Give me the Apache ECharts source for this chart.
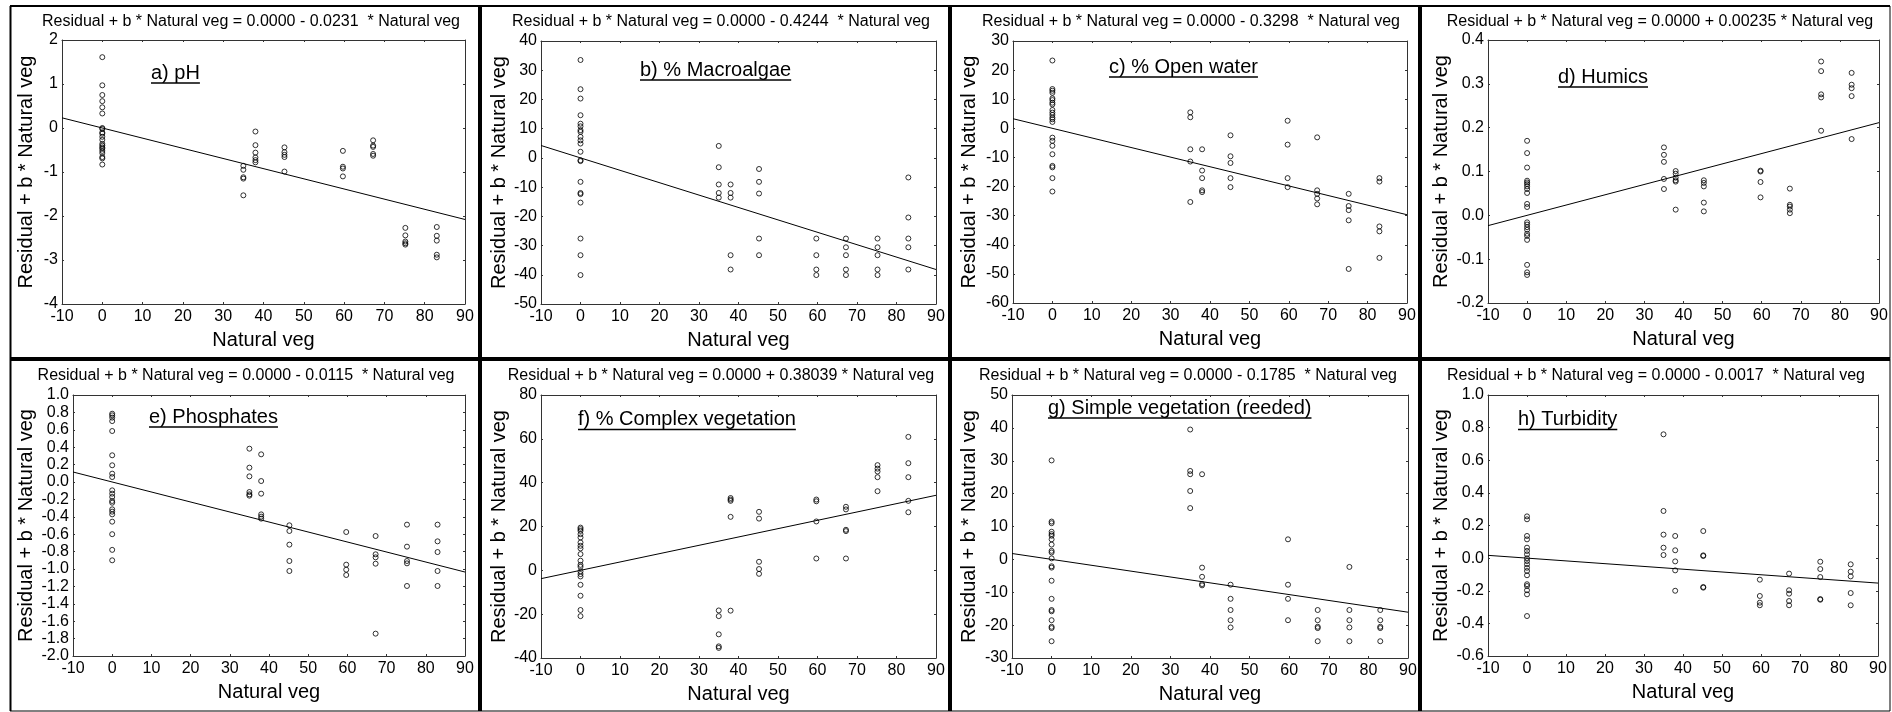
<!DOCTYPE html>
<html>
<head>
<meta charset="utf-8">
<script src="https://cdn.jsdelivr.net/npm/echarts@6/dist/echarts.min.js"></script>
<style>
  html, body { margin: 0; padding: 0; background: #fff; }
  #chart { width: 1892px; height: 712px; }
</style>
</head>
<body>
<div id="chart"></div>
<script>
// Natural vegetation cover (%) of the sampled sites
const SITES = [0, 35, 38, 45.2, 59.7, 67.2, 75.2, 83];

// Partial residuals per site (one inner list per entry of SITES)
const pH = [
  [1.61, 0.97, 0.75, 0.61, 0.47, 0.33, 0.0, -0.02, -0.1, -0.13, -0.2, -0.27, -0.36, -0.4, -0.44, -0.47, -0.52, -0.57, -0.66, -0.69, -0.83],
  [-0.86, -0.95, -1.12, -1.15, -1.53],
  [-0.08, -0.39, -0.56, -0.67, -0.73, -0.78],
  [-0.44, -0.55, -0.61, -0.66, -0.99],
  [-0.52, -0.88, -0.92, -1.1],
  [-0.28, -0.4, -0.43, -0.59, -0.63],
  [-2.27, -2.44, -2.58, -2.62, -2.65],
  [-2.25, -2.45, -2.56, -2.88, -2.94]
];
const macroalgae = [
  [33.5, 23.5, 20.3, 14.6, 11.7, 10.8, 9.5, 8.9, 7.2, 6.0, 4.9, 2.1, -0.8, -1.1, -8.2, -12.0, -12.4, -15.3, -27.6, -33.3, -40.1],
  [4.1, -3.2, -9.1, -12.0, -13.6],
  [-9.1, -12.0, -13.6, -33.3, -38.2],
  [-3.8, -8.2, -12.2, -27.6, -33.3],
  [-27.6, -33.3, -38.2, -40.1],
  [-27.6, -30.6, -33.3, -38.2, -40.1],
  [-27.6, -30.6, -33.3, -38.2, -40.1],
  [-6.7, -20.4, -27.6, -30.6, -38.2]
];
const openWater = [
  [23.3, 13.5, 12.9, 12.2, 10.3, 9.7, 8.8, 8.2, 6.3, 5.4, 4.6, 3.7, 3.1, 2.2, -3.2, -4.3, -6.0, -8.9, -12.9, -13.4, -17.1, -21.7],
  [5.5, 3.8, -7.2, -11.4, -25.3],
  [-7.2, -14.5, -17.1, -21.3, -21.9],
  [-2.4, -9.6, -11.9, -17.1, -20.2],
  [2.6, -5.6, -17.1, -20.2],
  [-3.1, -21.3, -22.5, -24.1, -26.1],
  [-22.5, -26.7, -28.1, -31.6, -48.3],
  [-17.1, -18.3, -33.7, -35.4, -44.5]
];
const humics = [
  [0.170, 0.142, 0.109, 0.079, 0.075, 0.071, 0.066, 0.060, 0.051, 0.026, 0.019, -0.016, -0.021, -0.027, -0.033, -0.042, -0.047, -0.056, -0.113, -0.130, -0.136],
  [0.155, 0.138, 0.122, 0.083, 0.060],
  [0.101, 0.095, 0.086, 0.080, 0.077, 0.013],
  [0.080, 0.074, 0.066, 0.029, 0.009],
  [0.102, 0.100, 0.076, 0.041],
  [0.061, 0.024, 0.020, 0.013, 0.005],
  [0.351, 0.329, 0.276, 0.269, 0.193],
  [0.325, 0.298, 0.290, 0.272, 0.174]
];
const phosphates = [
  [0.785, 0.766, 0.74, 0.70, 0.586, 0.307, 0.192, 0.096, 0.057, -0.096, -0.134, -0.172, -0.218, -0.238, -0.314, -0.341, -0.372, -0.456, -0.60, -0.78, -0.90],
  [0.383, 0.165, 0.065, -0.115, -0.142, -0.157],
  [0.318, 0.011, -0.134, -0.372, -0.398, -0.421],
  [-0.498, -0.563, -0.72, -0.908, -1.023],
  [-0.575, -0.95, -1.008, -1.069],
  [-0.621, -0.831, -0.866, -0.939, -1.743],
  [-0.49, -0.743, -0.908, -0.935, -1.195],
  [-0.49, -0.682, -0.805, -1.023, -1.195]
];
const complexVeg = [
  [19.5, 18.8, 18.0, 16.5, 15.0, 12.7, 11.2, 10.0, 7.4, 4.4, 2.5, 1.6, -0.5, -1.7, -2.8, -6.6, -11.6, -18.1, -20.9],
  [-18.3, -20.9, -29.2, -34.7, -35.4],
  [33.0, 32.3, 31.7, 24.4, -18.4],
  [26.7, 23.6, 3.9, 0.6, -1.6],
  [32.3, 31.5, 22.3, 5.4],
  [29.0, 27.8, 18.5, 17.9, 5.4],
  [48.0, 46.4, 45.1, 42.5, 36.1],
  [60.9, 48.9, 42.5, 31.7, 26.5]
];
const simpleVeg = [
  [30.1, 11.5, 11.0, 8.4, 7.7, 7.2, 6.1, 4.5, 2.6, 2.1, 0.3, -2.1, -2.5, -6.5, -12.0, -15.4, -15.8, -18.5, -20.5, -20.9, -24.9],
  [39.5, 26.9, 25.9, 20.8, 15.6],
  [25.9, -2.5, -5.3, -7.5, -7.9],
  [-7.7, -12.0, -15.4, -18.5, -20.7],
  [6.1, -7.7, -12.0, -18.5],
  [-15.4, -18.5, -20.5, -20.9, -24.9],
  [-2.3, -15.4, -18.5, -20.7, -24.9],
  [-15.4, -18.5, -20.5, -20.9, -24.9]
];
const turbidity = [
  [0.256, 0.238, 0.136, 0.115, 0.064, 0.044, 0.023, -0.001, -0.018, -0.038, -0.059, -0.079, -0.105, -0.16, -0.171, -0.197, -0.222, -0.355],
  [0.759, 0.289, 0.144, 0.064, 0.019],
  [0.136, 0.048, -0.020, -0.075, -0.2],
  [0.166, 0.017, 0.013, -0.177, -0.181],
  [-0.132, -0.232, -0.273, -0.289],
  [-0.095, -0.197, -0.218, -0.263, -0.289],
  [-0.022, -0.067, -0.116, -0.251, -0.255],
  [-0.038, -0.083, -0.112, -0.214, -0.289]
];

// Fitted slopes b (intercept 0.0000) as printed in each panel's equation
const SLOPES = ['-0.0231', '-0.4244', '-0.3298', '+0.00235', '-0.0115', '+0.38039', '-0.1785', '-0.0017'];
const PANEL_NAMES = ['a) pH', 'b) % Macroalgae', 'c) % Open water', 'd) Humics',
                     'e) Phosphates', 'f) % Complex vegetation', 'g) Simple vegetation (reeded)', 'h) Turbidity'];
const PANEL_DATA = [pH, macroalgae, openWater, humics, phosphates, complexVeg, simpleVeg, turbidity];

// Axis ticks: [min, max, step, decimals]
const X_TICKS = [-10, 90, 10];
const Y_TICKS = [
  [-4, 2, 1, 0], [-50, 40, 10, 0], [-60, 30, 10, 0], [-0.2, 0.4, 0.1, 1],
  [-2, 1, 0.2, 1], [-40, 80, 20, 0], [-30, 50, 10, 0], [-0.6, 1, 0.2, 1]
];
const X_NAME = 'Natural veg';
const Y_NAME = 'Residual + b * Natural veg';

// ---- layout (pixels) ----
const FONT = "'Liberation Sans', Arial, Helvetica, sans-serif";
const GRIDS = [
  { l: 62, t: 40, r: 465, b: 304 }, { l: 541, t: 41, r: 936, b: 304 },
  { l: 1013, t: 41, r: 1407, b: 303 }, { l: 1488, t: 40, r: 1879, b: 303 },
  { l: 73, t: 395, r: 465, b: 656 }, { l: 541, t: 395, r: 936, b: 658 },
  { l: 1012, t: 395, r: 1408, b: 658 }, { l: 1488, t: 395, r: 1878, b: 656 }
];
const TITLE_POS = [[251, 22], [721, 22], [1191, 22], [1660, 22], [246, 376], [721, 376], [1188, 376], [1656, 376]];
const YNAME_X = [25, 498, 968, 1440, 25, 498, 968, 1440];
const LABEL_POS = [[151, 73], [640, 70], [1109, 67], [1558, 77], [149, 417], [578, 419.5], [1048, 408], [1518, 419.5]];

const measure = (() => {
  const ctx = document.createElement('canvas').getContext('2d');
  return (txt, size) => { ctx.font = size + 'px ' + FONT; return ctx.measureText(txt).width; };
})();

const grid = [], xAxis = [], yAxis = [], series = [], graphic = [];

function axisBase(show) {
  return {
    axisLine: { show: true, onZero: false, lineStyle: { color: '#333', width: 1 } },
    axisTick: { show: true, inside: true, length: 2, lineStyle: { color: '#333' } },
    splitLine: { show: false },
    axisLabel: { show: show, color: '#000', fontSize: 16, fontFamily: FONT }
  };
}

PANEL_DATA.forEach((values, i) => {
  const g = GRIDS[i];
  grid.push({ left: g.l, top: g.t, width: g.r - g.l, height: g.b - g.t, outerBoundsMode: 'none', containLabel: false });

  const [ymin, ymax, ystep, dec] = Y_TICKS[i];
  const fmtY = v => (Math.abs(v) < 1e-9 ? 0 : v).toFixed(dec);

  const xb = axisBase(true);
  xAxis.push(Object.assign(xb, {
    type: 'value', gridIndex: i, position: 'bottom', min: X_TICKS[0], max: X_TICKS[1], interval: X_TICKS[2],
    name: X_NAME, nameLocation: 'middle', nameGap: 26,
    nameTextStyle: { fontSize: 20, color: '#000', fontFamily: FONT }
  }));
  xb.axisLabel.margin = 5;
  xAxis.push(Object.assign(axisBase(false), {
    type: 'value', gridIndex: i, position: 'top', min: X_TICKS[0], max: X_TICKS[1], interval: X_TICKS[2]
  }));

  const yl = axisBase(true);
  yAxis.push(Object.assign(yl, {
    type: 'value', gridIndex: i, position: 'left', min: ymin, max: ymax, interval: ystep,
    name: Y_NAME, nameLocation: 'middle', nameGap: g.l - YNAME_X[i] - 11,
    nameTextStyle: { fontSize: 20, color: '#000', fontFamily: FONT }
  }));
  yl.axisLabel.margin = 4;
  yl.axisLabel.formatter = fmtY;
  yAxis.push(Object.assign(axisBase(false), {
    type: 'value', gridIndex: i, position: 'right', min: ymin, max: ymax, interval: ystep
  }));

  // observations
  const pts = [];
  values.forEach((list, s) => list.forEach(v => pts.push([SITES[s], v])));
  series.push({
    type: 'scatter', xAxisIndex: 2 * i, yAxisIndex: 2 * i, data: pts,
    symbol: 'circle', symbolSize: 5,
    itemStyle: { color: 'rgba(0,0,0,0)', borderColor: '#000', borderWidth: 1 },
    silent: true
  });

  // fitted line y = 0 + b * x over the full x range
  const b = parseFloat(SLOPES[i]);
  series.push({
    type: 'line', xAxisIndex: 2 * i, yAxisIndex: 2 * i,
    data: [[X_TICKS[0], b * X_TICKS[0]], [X_TICKS[1], b * X_TICKS[1]]],
    showSymbol: false, symbol: 'none', lineStyle: { color: '#000', width: 1 }, silent: true
  });

  // equation heading
  const sign = SLOPES[i][0] === '-' ? '-' : '+';
  const mag = SLOPES[i].slice(1);
  const eq = 'Residual + b * Natural veg = 0.0000 ' + sign + ' ' + mag + (mag.length <= 6 ? '  ' : ' ') + '* Natural veg';
  graphic.push({
    type: 'text', x: TITLE_POS[i][0], y: TITLE_POS[i][1], silent: true,
    style: { text: eq, fontSize: 16, fontFamily: FONT, fill: '#000', align: 'center', verticalAlign: 'middle' }
  });

  // underlined panel label
  const [lx, ly] = LABEL_POS[i];
  const w = measure(PANEL_NAMES[i], 20);
  graphic.push({
    type: 'text', x: lx, y: ly, silent: true,
    style: { text: PANEL_NAMES[i], fontSize: 20, fontFamily: FONT, fill: '#000', align: 'left', verticalAlign: 'middle' }
  });
  graphic.push({
    type: 'line', silent: true,
    shape: { x1: lx, y1: ly + 10, x2: lx + w, y2: ly + 10 },
    style: { stroke: '#000', lineWidth: 1.5 }
  });
});

// figure frame and panel dividers
const frame = [
  [10, 6, 1890, 6, 2], [10.5, 6, 10.5, 711, 2], [1890, 6, 1890, 711, 1], [10, 711, 1890, 711, 1],
  [480, 6, 480, 711, 4], [950, 6, 950, 711, 4], [1420, 6, 1420, 711, 4], [10, 359, 1890, 359, 4]
];
frame.forEach(([x1, y1, x2, y2, lw]) => graphic.push({
  type: 'line', silent: true, shape: { x1, y1, x2, y2 }, style: { stroke: '#000', lineWidth: lw }
}));

const chart = echarts.init(document.getElementById('chart'), null, { renderer: 'canvas' });
chart.setOption({
  animation: false,
  backgroundColor: '#fff',
  textStyle: { fontFamily: FONT },
  grid, xAxis, yAxis, series, graphic
});
</script>
</body>
</html>
